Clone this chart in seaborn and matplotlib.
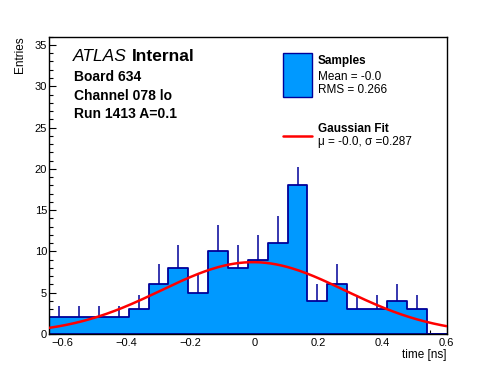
import seaborn as sns
import matplotlib.pyplot as plt
import matplotlib.patches as mpatches
import matplotlib.lines as mlines
from matplotlib.ticker import MultipleLocator
import numpy as np

# histogram contents (bin centres, entries, upper errors)
bin_centers = [-0.609, -0.547, -0.485, -0.423, -0.361, -0.299, -0.237, -0.175, -0.113, -0.051,
               0.011, 0.073, 0.135, 0.197, 0.259, 0.321, 0.383, 0.445, 0.507, 0.569]
entries = [2, 2, 2, 2, 3, 6, 8, 5, 10, 8, 9, 11, 18, 4, 6, 3, 3, 4, 3, 0]
errors_up = [1.41, 1.41, 1.41, 1.41, 1.73, 2.45, 2.83, 2.24, 3.16, 2.83,
             3.0, 3.32, 2.24, 2.0, 2.45, 1.73, 1.73, 2.0, 1.73, 0.0]

# gaussian fit parameters
fit_amp = 8.7
fit_mu = -0.004
fit_sigma = 0.287

x_ticks = [-0.6, -0.4, -0.2, 0, 0.2, 0.4, 0.6]
x_tick_labels = ['\u22120.6', '\u22120.4', '\u22120.2', '0', '0.2', '0.4', '0.6']
y_ticks = [0, 5, 10, 15, 20, 25, 30, 35]

info_lines = ['Board 634', 'Channel 078 lo', 'Run 1413 A=0.1']
samples_stats = ['Mean = -0.0', 'RMS = 0.266']
fit_stats = '\u03bc = -0.0, \u03c3 =0.287'

fill_col = '#0099ff'
edge_col = '#000099'

sns.set_style('ticks')
plt.rcParams['font.family'] = ['Liberation Sans', 'DejaVu Sans']
plt.rcParams['text.color'] = 'black'
plt.rcParams['axes.labelcolor'] = 'black'
plt.rcParams['xtick.color'] = 'black'
plt.rcParams['ytick.color'] = 'black'

W, H = 496, 372
fig = plt.figure(figsize=(W / 100, H / 100), dpi=100)
ax = fig.add_axes([49.3 / W, 1 - 334 / H, (446.5 - 49.3) / W, (334 - 36.7) / H])

# histogram
sns.histplot(x=bin_centers, weights=entries, bins=20, binrange=(-0.64, 0.6),
             element='step', fill=True, color=fill_col, alpha=1,
             edgecolor=edge_col, linewidth=1.3, ax=ax)

# error bars (only the upper half shows above the fill)
cnt = np.array(entries, dtype=float)
err = np.array(errors_up)
mask = cnt > 0
ax.vlines(np.array(bin_centers)[mask], cnt[mask], cnt[mask] + err[mask],
          color=edge_col, linewidth=1.1, zorder=1.5)

# gaussian fit curve
fit_x = np.linspace(-0.64, 0.6, 300)
fit_y = fit_amp * np.exp(-0.5 * ((fit_x - fit_mu) / fit_sigma) ** 2)
sns.lineplot(x=fit_x, y=fit_y, color='red', linewidth=1.8, ax=ax, zorder=3)

ax.set_xlim(-0.64, 0.6)
ax.set_ylim(0, 36)
ax.set_xticks(x_ticks)
ax.set_xticklabels(x_tick_labels)
ax.set_yticks(y_ticks)
ax.xaxis.set_minor_locator(MultipleLocator(0.05))
ax.yaxis.set_minor_locator(MultipleLocator(1))
ax.tick_params(axis='both', which='both', bottom=True, left=True, top=False, right=False)
ax.tick_params(axis='x', which='major', direction='in', length=6.5, width=0.8, labelsize=8, pad=3)
ax.tick_params(axis='x', which='minor', direction='in', length=3.2, width=0.8)
ax.tick_params(axis='y', which='major', direction='in', length=5, width=0.8, labelsize=8, pad=1.5)
ax.tick_params(axis='y', which='minor', direction='in', length=2.8, width=0.8)
for s in ax.spines.values():
    s.set_visible(True)
    s.set_linewidth(1.0)
    s.set_color('black')

ax.set_xlabel('time [ns]', fontsize=8.5, loc='right')
ax.xaxis.set_label_coords(1.0, -0.05)
ax.set_ylabel('Entries', fontsize=8.5, loc='top')
ax.yaxis.set_label_coords(-0.0587, 1.0)

# ATLAS label and run info
fig.text(73 / W, 1 - 56.7 / H, 'ATLAS', fontsize=12.5, style='italic', va='center', ha='left')
fig.text(132 / W, 1 - 56.7 / H, 'Internal', fontsize=12.5, fontweight='bold', va='center', ha='left')
for i, line in enumerate(info_lines):
    fig.text(74 / W, 1 - (77 + 18.7 * i) / H, line, fontsize=10, fontweight='bold',
             va='center', ha='left')

# legend drawn by hand
fig.patches.append(mpatches.Rectangle((283.3 / W, 1 - 96.7 / H), 28.4 / W, 43.4 / H,
                                      transform=fig.transFigure, facecolor=fill_col,
                                      edgecolor=edge_col, linewidth=1.0))
fig.lines.append(mlines.Line2D([283 / W, 311.5 / W], [1 - 135.5 / H, 1 - 135.5 / H],
                               transform=fig.transFigure, color='red', linewidth=1.8))
fig.text(317.7 / W, 1 - 61 / H, 'Samples', fontsize=8.5, fontweight='bold', va='center')
fig.text(317.7 / W, 1 - 77.5 / H, samples_stats[0], fontsize=8.5, va='center')
fig.text(317.7 / W, 1 - 90 / H, samples_stats[1], fontsize=8.5, va='center')
fig.text(317.7 / W, 1 - 129 / H, 'Gaussian Fit', fontsize=8.5, fontweight='bold', va='center')
fig.text(317.7 / W, 1 - 141.5 / H, fit_stats, fontsize=8.5, va='center')

fig.savefig('out.png', dpi=100)
